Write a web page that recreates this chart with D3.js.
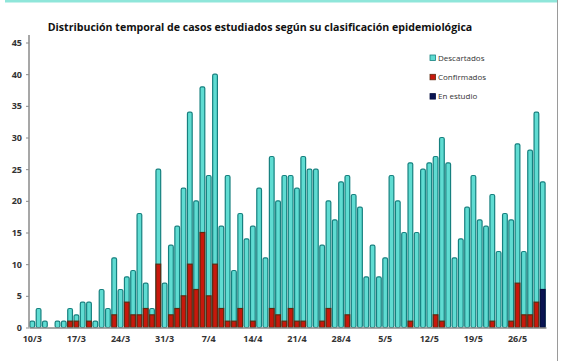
<!DOCTYPE html>
<html><head><meta charset="utf-8">
<script src="https://cdn.jsdelivr.net/npm/d3@7/dist/d3.min.js"></script>
<style>body{margin:0;background:#fff}svg{display:block}</style>
</head><body>
<script>
const dates = ["10/3","11/3","12/3","13/3","14/3","15/3","16/3","17/3","18/3","19/3","20/3","21/3","22/3","23/3","24/3","25/3","26/3","27/3","28/3","29/3","30/3","31/3",
"1/4","2/4","3/4","4/4","5/4","6/4","7/4","8/4","9/4","10/4","11/4","12/4","13/4","14/4","15/4","16/4","17/4","18/4","19/4","20/4","21/4","22/4","23/4","24/4","25/4","26/4","27/4","28/4","29/4","30/4",
"1/5","2/5","3/5","4/5","5/5","6/5","7/5","8/5","9/5","10/5","11/5","12/5","13/5","14/5","15/5","16/5","17/5","18/5","19/5","20/5","21/5","22/5","23/5","24/5","25/5","26/5","27/5","28/5","29/5","30/5"];
const totals = [1,3,1,0,1,1,3,2,4,4,1,6,3,11,6,8,9,18,7,3,25,7,
13,16,22,34,20,38,24,40,16,24,9,18,14,16,22,11,27,20,24,24,22,27,25,25,13,20,17,23,24,21,
19,8,13,8,11,24,20,15,26,15,25,26,27,30,26,11,14,19,24,17,16,21,12,18,17,29,12,28,34,23];
const confirmados = [0,0,0,0,0,0,1,1,0,1,0,0,0,2,0,4,2,2,3,2,10,0,
2,3,5,10,6,15,5,10,3,1,1,3,0,1,0,0,3,2,1,3,1,1,0,0,1,3,0,0,2,0,
0,0,0,0,0,0,0,0,1,0,0,0,2,1,0,0,0,0,0,0,0,1,0,0,1,7,2,2,4,0];
const enEstudio = new Array(82).fill(0); enEstudio[81] = 6;
const descartados = totals.map((t,i)=>t-confirmados[i]-enEstudio[i]);
const tickLabels = ["10/3","17/3","24/3","31/3","7/4","14/4","21/4","28/4","5/5","12/5","19/5","26/5"];
const yTicks = [0,5,10,15,20,25,30,35,40,45];
const seriesNames = ["Descartados","Confirmados","En estudio"];

const W=567,H=361;
const svg=d3.select("body").append("svg").attr("width",W).attr("height",H);
const x=d3.scaleBand().domain(dates).range([29,546]).paddingInner(0.06).paddingOuter(0.05);
const y=d3.scaleLinear().domain([0,45]).range([327.5,42.5]);

svg.append("rect").attr("x",5).attr("y",0).attr("width",552).attr("height",2.5).attr("fill","#8fe6da");
svg.append("line").attr("x1",557.5).attr("x2",557.5).attr("y1",0).attr("y2",H).attr("stroke","#9a9a9a").attr("stroke-width",1);

svg.append("text").attr("x",260).attr("y",31).attr("text-anchor","middle")
 .attr("font-family","Open Sans, sans-serif").attr("font-weight","bold").attr("font-size",10.6)
 .attr("fill","#111").text("Distribución temporal de casos estudiados según su clasificación epidemiológica");

const stackData = dates.map((d,i)=>({date:d,Confirmados:confirmados[i],"En estudio":enEstudio[i],Descartados:descartados[i]}));
const stack=d3.stack().keys(["Confirmados","En estudio","Descartados"])(stackData);
const fills={Descartados:"#5fdcd2",Confirmados:"#c8180c","En estudio":"#0a1452"};
const strokes={Descartados:"#16807f",Confirmados:"#5e2a10","En estudio":"#071040"};

const order=["Descartados","Confirmados","En estudio"];
order.forEach(k=>{
  const layer=stack.find(s=>s.key===k);
  svg.append("g").selectAll("rect").data(layer.filter(d=>d[1]-d[0]>0)).join("rect")
   .attr("x",d=>x(d.data.date)+0.6)
   .attr("width",x.bandwidth()-1.2)
   .attr("y",d=>y(d[1]))
   .attr("height",d=>k==="Descartados"?y(0)-y(d[1]):y(d[0])-y(d[1]))
   .attr("rx",k==="Descartados"?1.5:0)
   .attr("fill",fills[k]).attr("stroke",strokes[k]).attr("stroke-width",1.2);
});

const yAxis=svg.append("g").attr("transform","translate(29,0)")
 .call(d3.axisLeft(y).tickValues(yTicks).tickSize(3).tickPadding(4));
const xAxis=svg.append("g").attr("transform","translate(0,327.5)")
 .call(d3.axisBottom(x).tickValues(tickLabels).tickSize(0).tickPadding(8));
[yAxis,xAxis].forEach(a=>{
  a.select(".domain").attr("stroke","#8a8a8a").attr("stroke-width",1.5);
  a.selectAll(".tick line").attr("stroke","#8a8a8a");
  a.selectAll("text").attr("font-family","Open Sans, sans-serif").attr("font-weight","bold")
   .attr("font-size",9).attr("fill","#333");
});
yAxis.select(".domain").attr("d","M-0,35V327.5");

const lg=svg.append("g");
seriesNames.forEach((n,i)=>{
  const yy=58+i*19.3;
  lg.append("rect").attr("x",430).attr("y",yy-3).attr("width",5.5).attr("height",5.5)
   .attr("fill",fills[n]).attr("stroke",strokes[n]).attr("stroke-width",0.8);
  lg.append("text").attr("x",438).attr("y",yy).attr("dy","0.35em")
   .attr("font-family","Open Sans, sans-serif").attr("font-size",8).attr("fill","#333").text(n);
});
</script>
</body></html>
